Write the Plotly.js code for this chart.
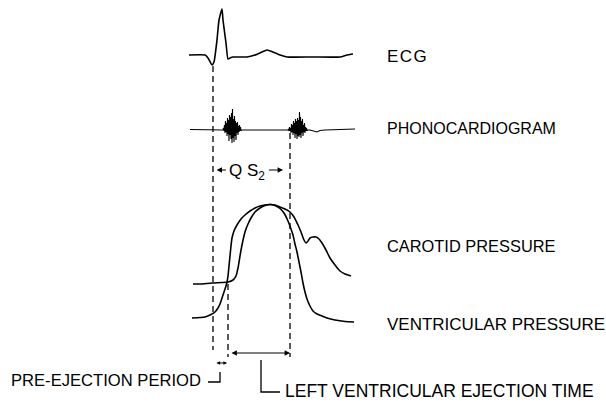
<!DOCTYPE html>
<html>
<head>
<meta charset="utf-8">
<script src="https://cdn.plot.ly/plotly-3.0.1.min.js"></script>
<style>html,body{margin:0;padding:0;background:#fff;}#chart{width:606px;height:403px;}</style>
</head>
<body>
<div id="chart"></div>
<script>
// time in ms (t = 0 at onset of Q wave); amplitudes in arbitrary chart units (up = positive)
const ecgT = [-120,-40,-25,-5,5,20,30,45,50,65,75,85,100,170,210,245,270,300,335,370,500,635,670,700];
const ecgV = [1,1,-2,-9,-6,16,36,47,36,13,-3,-2,-1,-1,1,4,6,4,1,-1,-1,-1,1,2];

const phonoPreT = [-115,0,45];
const phonoPreV = [0.5,0,0];
const s1T = [50,52.5,55,57.5,60,62.5,65,67.5,70,72.5,75,77.5,80,82.5,85,87.5,90,92.5,95,97.5,100,102.5,105,107.5,110,112.5,115,117.5,120,122.5,125,127.5,130,132.5,135,137.5,140,142.5];
const s1V = [0,2,-1,5,-3,9,-2,7,-6,12,-4,10,-11,15,-5,13,-9,17,-13,21,-8,11,-12,14,-6,9,-10,7,-3,8,-5,4,-2,5,-1,3,-1,0];
const phonoMidT = [150,250,370];
const phonoMidV = [0,0,-0.5];
const s2T = [375,377.5,380,382.5,385,387.5,390,392.5,395,397.5,400,402.5,405,407.5,410,412.5,415,417.5,420,422.5,425,427.5,430,432.5,435,437.5,440,442.5,445,447.5,450,452.5,455,457.5,460,462.5,465,467.5,470,472.5];
const s2V = [0,1,-1,3,-1,2,-3,6,-2,5,-5,9,-3,7,-8,11,-4,9,-9,12,-6,10,-7,18,-5,13,-8,9,-3,11,-6,5,-2,7,-3,3,-1,2,-1,0];
const phonoPostT = [485,505,520,535,560,710];
const phonoPostV = [0,-1.5,-2,-0.5,0,1];

const carT = [-100,-65,-5,45,75,100,115,125,135,145,160,175,190,210,235,260,285,310,335,360,385,405,425,440,455,465,475,485,500,515,530,545,565,585,610,635,660,690];
const carV = [0,0,1,1.5,2,4,8,16,28,39,52,60,66,72,76,78.5,79.5,79,77,75,72,67,59,52,44,41,43,46,47,47,45,41,34,26,19,13,10,8];

const venT = [-105,-65,-40,-15,10,25,35,45,55,65,70,75,80,85,90,95,105,120,140,160,185,210,235,260,285,310,335,355,375,390,400,410,420,430,440,450,460,470,485,500,520,545,570,610,660,705];
const venV = [0,0.5,1,3,6,10,14,20,26,32,36,42,52,62,72,80,87,93,99,103,107,110,112,113,113.5,112.5,109.5,105,97,89,83,74,66,56,46,35,26,19,12,7,4,2,0,-2,-3.5,-4];

// timing events (ms)
const qOnset = 0;
const ejectionOnset = 75;
const s2Time = 385;

const labels = ["E\u200aC\u200aG","PHONOCARDIOGRAM","CAROTID PRESSURE","VENTRICULAR PRESSURE"];

// ---- drawing ----
const base = {ecg:56, phono:130, car:284, ven:318};
const toY = (arr, b) => arr.map(v => b - v);
const phT = [].concat(phonoPreT, s1T, phonoMidT, s2T, phonoPostT);
const phV = [].concat(phonoPreV, s1V, phonoMidV, s2V, phonoPostV);
const black = '#000';
const font = 'Liberation Sans, Arial, Helvetica, sans-serif';

const traces = [
  {x: ecgT, y: toY(ecgV, base.ecg), mode:'lines', line:{color:black, width:1.6, shape:'spline', smoothing:0.5}},
  {x: phT, y: toY(phV, base.phono), mode:'lines', line:{color:black, width:1.1}},
  {x: carT, y: toY(carV, base.car), mode:'lines', line:{color:black, width:1.6, shape:'spline', smoothing:0.6}},
  {x: venT, y: toY(venV, base.ven), mode:'lines', line:{color:black, width:1.6, shape:'spline', smoothing:0.6}}
];

const dash = {color:black, width:1.3, dash:'6px,4px'};
const shapes = [
  {type:'line', x0:qOnset, x1:qOnset, y0:66, y1:350, line:dash},
  {type:'line', x0:ejectionOnset, x1:ejectionOnset, y0:284, y1:357, line:dash},
  {type:'line', x0:s2Time, x1:s2Time, y0:133, y1:357, line:dash},
  {type:'path', path:'M -25,382 L 35,382 L 35,372', line:{color:black, width:1.3}},
  {type:'path', path:'M 240,360 L 240,392 L 335,392', line:{color:black, width:1.3}}
];

function txt(x, y, text, size, xanchor){
  return {x:x, y:y, text:text, showarrow:false, xanchor:xanchor||'left', yanchor:'middle',
          font:{family:font, size:size, color:black}};
}
function arr(x, y, ax, ay, both, size){
  return {x:x, y:y, ax:ax, ay:ay, axref:'x', ayref:'y', text:'', showarrow:true,
          arrowhead:2, arrowsize:size||1, arrowwidth:1.2, arrowcolor:black,
          arrowside: both ? 'end+start' : 'end', standoff:0, startstandoff:0};
}

const annotations = [
  txt(858, 56, labels[0], 17),
  txt(858, 128, labels[1], 16),
  txt(858, 246, labels[2], 16.4),
  txt(858, 324, labels[3], 17),
  txt(-1022, 380, 'PRE-EJECTION PERIOD', 16.6),
  txt(352, 391, 'LEFT VENTRICULAR EJECTION TIME', 17.5),
  txt(68, 172, 'Q S<sub>2</sub>', 17),
  arr(18, 170, 72, 170, false, 0.9),
  arr(350, 170, 272, 170, false, 0.9),
  arr(385, 353, 85, 353, true, 0.9),
  arr(70, 363, 10, 363, true, 0.6)
];

const layout = {
  width:606, height:403,
  margin:{l:0, r:0, t:0, b:0},
  paper_bgcolor:'#fff', plot_bgcolor:'#fff',
  showlegend:false,
  xaxis:{range:[-1065,1965], visible:false, fixedrange:true},
  yaxis:{range:[403,0], visible:false, fixedrange:true},
  shapes:shapes,
  annotations:annotations
};

Plotly.newPlot('chart', traces, layout, {staticPlot:true, displayModeBar:false});
</script>
</body>
</html>
